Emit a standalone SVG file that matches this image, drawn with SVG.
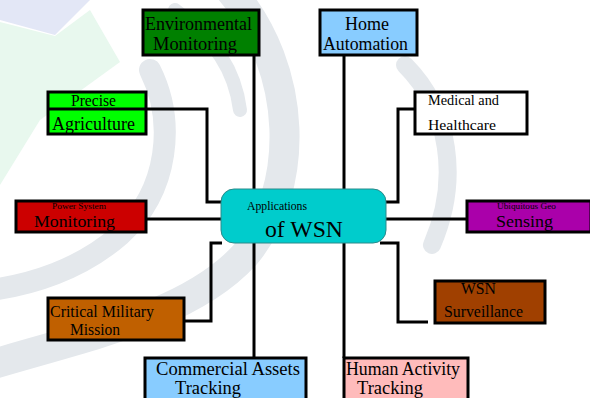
<svg xmlns="http://www.w3.org/2000/svg" width="590" height="398" viewBox="0 0 590 398" font-family="'Liberation Serif','DejaVu Serif',serif">
<style>
.box{stroke:#000;stroke-width:3}
.ln{fill:none;stroke:#000;stroke-width:3}
text{font-family:'Liberation Serif','DejaVu Serif',serif;fill:#000}
.wm{fill:none;stroke:#e4e8ec;stroke-linecap:round}
</style>
<rect width="590" height="398" fill="#fff"/>
<g id="watermark">
<path d="M0,0 L90,0 L55,35 L0,20 Z" fill="#e3e7f6"/>
<path d="M0,22 L55,36 L90,10 L120,62 L40,120 L0,185 Z" fill="#e8f8ee"/>
<path class="wm" stroke-width="30" d="M230,-10 C300,70 300,190 245,255 C190,315 90,335 -10,365"/>
<path class="wm" stroke-width="22" d="M150,70 C175,120 170,190 120,235 C80,270 30,285 -10,290"/>
<path class="wm" stroke-width="14" d="M175,10 C215,40 235,70 240,110"/>
<path class="wm" stroke-width="18" d="M405,65 C450,110 460,180 432,245"/>
</g>
<g id="connectors">
<line class="ln" x1="254" y1="56" x2="254" y2="190"/>
<line class="ln" x1="344" y1="56" x2="344" y2="190"/>
<polyline class="ln" points="48,109 207,109 207,202 222,202"/>
<line class="ln" x1="146" y1="219" x2="222" y2="219"/>
<polyline class="ln" points="415,109 398,109 398,202 386,202"/>
<line class="ln" x1="386" y1="219" x2="466" y2="219"/>
<polyline class="ln" points="185,321 211,321 211,243 222,243"/>
<line class="ln" x1="254" y1="243" x2="254" y2="358"/>
<line class="ln" x1="344" y1="243" x2="344" y2="358"/>
<polyline class="ln" points="380,243 398,243 398,322 428,322"/>
</g>
<g id="env">
<rect class="box" x="143" y="10" width="116" height="45" fill="#008000"/>
<text x="145" y="30" font-size="18" textLength="107" lengthAdjust="spacingAndGlyphs">Environmental</text>
<text x="153" y="50" font-size="18" textLength="84" lengthAdjust="spacingAndGlyphs">Monitoring</text>
</g>
<g id="home">
<rect class="box" x="320" y="10" width="97" height="45" fill="#88ccff"/>
<text x="345" y="30" font-size="18" textLength="44" lengthAdjust="spacingAndGlyphs">Home</text>
<text x="323" y="50" font-size="18" textLength="85" lengthAdjust="spacingAndGlyphs">Automation</text>
</g>
<g id="agri">
<rect class="box" x="48" y="92" width="98" height="42" fill="#00ff00"/>
<line class="ln" x1="48" y1="109" x2="146" y2="109"/>
<text x="71" y="106" font-size="16" textLength="45" lengthAdjust="spacingAndGlyphs">Precise</text>
<text x="52" y="130" font-size="18" textLength="83" lengthAdjust="spacingAndGlyphs">Agriculture</text>
</g>
<g id="power">
<rect class="box" x="16" y="201" width="130" height="31" fill="#cc0000"/>
<text x="52" y="209" font-size="8" textLength="54" lengthAdjust="spacingAndGlyphs">Power System</text>
<text x="34" y="227" font-size="17" textLength="81" lengthAdjust="spacingAndGlyphs">Monitoring</text>
</g>
<g id="medical">
<rect class="box" x="415" y="92" width="112" height="42" fill="#fff"/>
<text x="428" y="105" font-size="14" textLength="71" lengthAdjust="spacingAndGlyphs">Medical and</text>
<text x="428" y="130" font-size="15" textLength="68" lengthAdjust="spacingAndGlyphs">Healthcare</text>
</g>
<g id="geo">
<rect class="box" x="467" y="201" width="124" height="31" fill="#aa00aa"/>
<text x="497" y="209" font-size="8" textLength="59" lengthAdjust="spacingAndGlyphs">Ubiquitous Geo</text>
<text x="496" y="227" font-size="17" textLength="57" lengthAdjust="spacingAndGlyphs">Sensing</text>
</g>
<g id="center">
<rect x="221" y="189" width="165" height="54" rx="13" fill="#00cccc" stroke="#2a8a8a" stroke-width="1"/>
<text x="247" y="210" font-size="12" textLength="60" lengthAdjust="spacingAndGlyphs">Applications</text>
<text x="265" y="237" font-size="24" textLength="78" lengthAdjust="spacingAndGlyphs">of WSN</text>
</g>
<g id="military">
<rect class="box" x="48" y="298" width="136" height="42" fill="#c06000"/>
<text x="50" y="317" font-size="16" textLength="104" lengthAdjust="spacingAndGlyphs">Critical Military</text>
<text x="70" y="335" font-size="16" textLength="50" lengthAdjust="spacingAndGlyphs">Mission</text>
</g>
<g id="surv">
<rect class="box" x="435" y="281" width="110" height="42" fill="#a04000"/>
<text x="461" y="294" font-size="16" textLength="35" lengthAdjust="spacingAndGlyphs">WSN</text>
<text x="444" y="317" font-size="16" textLength="79" lengthAdjust="spacingAndGlyphs">Surveillance</text>
</g>
<g id="commercial">
<rect class="box" x="145" y="358" width="161" height="50" fill="#88ccff"/>
<text x="156" y="375" font-size="18" textLength="144" lengthAdjust="spacingAndGlyphs">Commercial Assets</text>
<text x="175" y="394" font-size="18" textLength="66" lengthAdjust="spacingAndGlyphs">Tracking</text>
</g>
<g id="human">
<rect class="box" x="344" y="358" width="124" height="50" fill="#ffbbbb"/>
<text x="346" y="375" font-size="18" textLength="114" lengthAdjust="spacingAndGlyphs">Human Activity</text>
<text x="357" y="394" font-size="18" textLength="66" lengthAdjust="spacingAndGlyphs">Tracking</text>
</g>
</svg>
